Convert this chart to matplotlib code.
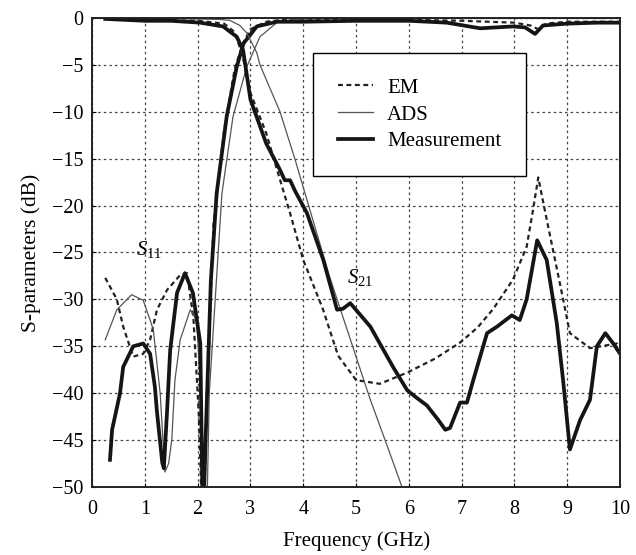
import matplotlib
matplotlib.use('Agg')
import matplotlib.pyplot as plt

plt.rcParams['font.family'] = ['Liberation Serif', 'DejaVu Serif']
plt.rcParams['mathtext.fontset'] = 'custom'
plt.rcParams['mathtext.it'] = 'Liberation Serif:italic'
plt.rcParams['mathtext.rm'] = 'Liberation Serif'

# S11 curves
em_s11_f = [0.25, 0.47, 0.59, 0.78, 0.97, 1.1, 1.23, 1.42, 1.67, 1.8, 1.92, 2.02, 2.1, 2.17, 2.3, 2.5,
            2.7, 2.85, 3.0, 3.3, 3.6, 4, 5, 6, 7, 7.5, 8, 8.3, 8.45, 8.6, 9, 10]
em_s11 = [-27.7, -30, -32.9, -36.1, -35.8, -34.3, -31.1, -29, -27.4, -27.2, -32, -42, -56, -42, -22, -12,
          -5.5, -2.8, -1.2, -0.4, -0.2, -0.2, -0.2, -0.2, -0.3, -0.4, -0.5, -0.8, -1.2, -0.6, -0.4, -0.4]

ads_s11_f = [0.25, 0.47, 0.75, 0.97, 1.16, 1.29, 1.38, 1.45, 1.51, 1.57, 1.67, 1.86, 1.98, 2.06, 2.15,
             2.22, 2.46, 2.67, 2.93, 3.18, 3.5, 3.8, 4.5, 10]
ads_s11 = [-34.3, -31.1, -29.5, -30.1, -33.2, -40, -48.4, -47.5, -45, -38.6, -34.3, -31.1, -32.2, -40, -60,
           -40, -18.7, -10.5, -5.2, -2, -0.5, -0.15, -0.05, -0.05]

meas_s11_f = [0.34, 0.38, 0.53, 0.59, 0.78, 0.97, 1.1, 1.19, 1.23, 1.33, 1.36, 1.42, 1.48, 1.61, 1.76, 1.91,
              2.05, 2.1, 2.15, 2.25, 2.36, 2.55, 2.74, 2.87, 3.12, 3.5, 4, 5, 6, 6.72, 7.35, 7.97, 8.2, 8.39,
              8.54, 9, 9.56, 10]
meas_s11 = [-47.1, -43.9, -40, -37.2, -35, -34.7, -35.8, -39.3, -42, -47.4, -48, -42, -35.4, -29.3, -27.2,
            -29.3, -34.7, -55, -45, -28, -18.7, -10.5, -5.2, -2.7, -0.9, -0.4, -0.4, -0.3, -0.3, -0.5, -1.1,
            -0.9, -1.0, -1.7, -0.8, -0.6, -0.5, -0.5]

# S21 curves
ads_s21_f = [0.25, 1, 2, 2.4, 2.61, 2.8, 2.93, 3.12, 3.18, 3.56, 3.84, 4.5, 5.27, 5.55, 5.87, 6.0]
ads_s21 = [-0.05, -0.05, -0.1, -0.15, -0.25, -0.8, -1.6, -3.7, -5, -10, -15, -27.6, -40.7, -45, -50, -52]

em_s21_f = [0.25, 1, 2, 2.5, 2.7, 2.85, 3.0, 3.3, 3.6, 3.75, 4.0, 4.37, 4.66, 5.0, 5.45, 5.97, 6.5, 6.97,
            7.3, 7.6, 7.97, 8.23, 8.35, 8.45, 8.6, 8.86, 9.05, 9.43, 9.94, 10]
em_s21 = [-0.1, -0.2, -0.3, -0.6, -1.5, -4, -8, -12.3, -18, -20.8, -25.8, -31, -36, -38.6, -39, -37.8,
          -36.3, -34.6, -33, -31, -27.9, -24.4, -20.5, -17, -21.2, -28.3, -33.6, -35.2, -34.7, -35]

meas_s21_f = [0.25, 1, 1.5, 2.05, 2.48, 2.74, 2.86, 3.0, 3.3, 3.56, 3.65, 3.75, 3.85, 4.07, 4.38, 4.64,
              4.75, 4.89, 5.27, 5.7, 5.97, 6.15, 6.34, 6.55, 6.69, 6.78, 6.97, 7.1, 7.22, 7.48, 7.67, 7.95,
              8.1, 8.23, 8.43, 8.61, 8.8, 8.92, 9.05, 9.24, 9.43, 9.56, 9.72, 9.87, 10]
meas_s21 = [-0.1, -0.3, -0.3, -0.5, -0.9, -2, -3.4, -8.7, -13.4, -16.2, -17.3, -17.3, -18.5, -20.8, -25.8,
            -31.1, -31, -30.4, -32.9, -37.2, -39.7, -40.5, -41.3, -42.8, -43.9, -43.7, -41, -41, -38.6,
            -33.6, -32.9, -31.7, -32.2, -30, -23.7, -25.8, -32.5, -38.6, -46, -42.9, -40.7, -35, -33.6,
            -34.7, -35.8]

fig = plt.figure(figsize=(6.36, 5.55), dpi=100)
ax = fig.add_axes([0.1447, 0.1225, 0.8303, 0.8451])

dash = (0, (2.2, 1.6))
ax.plot(em_s11_f, em_s11, color='#222222', lw=1.6, linestyle=dash, label='EM')
ax.plot(ads_s11_f, ads_s11, color='#555555', lw=0.9, label='ADS')
ax.plot(meas_s11_f, meas_s11, color='#151515', lw=2.7, label='Measurement')
ax.plot(em_s21_f, em_s21, color='#222222', lw=1.6, linestyle=dash)
ax.plot(ads_s21_f, ads_s21, color='#555555', lw=0.9)
ax.plot(meas_s21_f, meas_s21, color='#151515', lw=2.7)

ax.set_xlim(0, 10)
ax.set_ylim(-50, 0)
ax.set_xticks(range(0, 11))
ax.set_yticks(range(-50, 1, 5))
ax.grid(True, color='#444444', linestyle=(0, (2, 2.5)), linewidth=0.9)
ax.tick_params(direction='in', labelsize=14.5, length=3)
ax.tick_params(axis='x', pad=9)
ax.tick_params(axis='y', pad=6)
for s in ax.spines.values():
    s.set_linewidth(1.4)
    s.set_color('#222222')

ax.set_xlabel('Frequency (GHz)', fontsize=15, labelpad=9)
ax.set_ylabel('S-parameters (dB)', fontsize=15.5, labelpad=8)

ax.text(0.83, -25.3, '$S_{11}$', fontsize=15)
ax.text(4.83, -28.3, '$S_{21}$', fontsize=15)

leg = ax.legend(loc='upper left', bbox_to_anchor=(0.419, 0.925), fontsize=15, frameon=True,
                fancybox=False, edgecolor='black', borderpad=1.2, handlelength=1.65,
                handletextpad=0.7, labelspacing=0.35, borderaxespad=0)
leg.get_frame().set_linewidth(1.0)
leg.get_frame().set_alpha(1)

plt.savefig('out.png', dpi=100)
